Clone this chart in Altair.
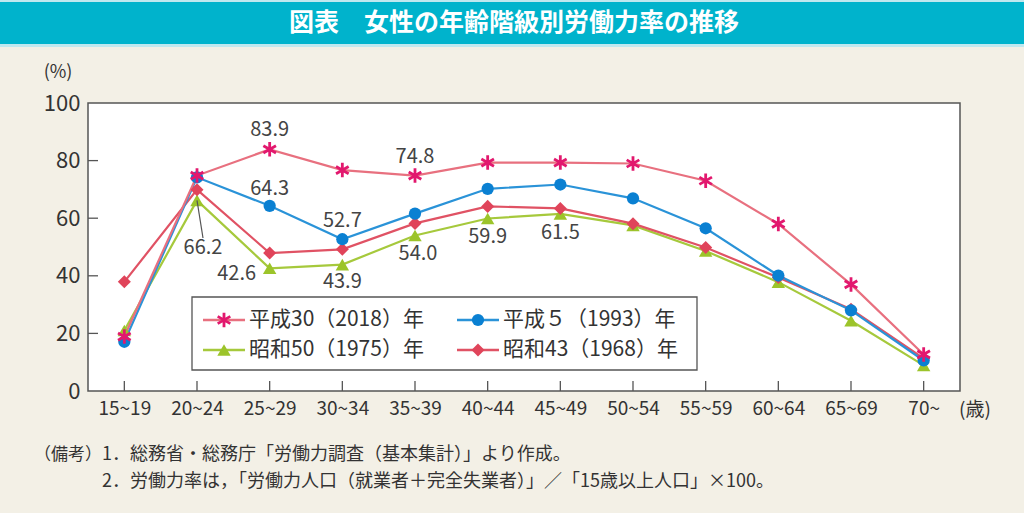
import altair as alt
import pandas as pd

# ---------------- data ----------------
ages = ["15~19", "20~24", "25~29", "30~34", "35~39", "40~44",
        "45~49", "50~54", "55~59", "60~64", "65~69", "70~"]
series_names = ["平成30（2018）年", "平成５（1993）年", "昭和50（1975）年", "昭和43（1968）年"]
v2018 = [18.9, 74.8, 83.9, 76.7, 74.8, 79.3, 79.3, 79.0, 73.0, 58.0, 37.0, 12.7]
v1993 = [17.1, 74.2, 64.3, 52.7, 61.6, 70.2, 71.7, 66.9, 56.5, 40.1, 28.0, 10.6]
v1975 = [21.0, 66.2, 42.6, 43.9, 54.0, 59.9, 61.5, 57.5, 48.6, 37.8, 24.4, 8.9]
v1968 = [37.9, 69.9, 47.9, 49.2, 58.2, 64.1, 63.4, 58.1, 49.8, 39.4, 28.4, 11.3]
y_ticks = [0, 20, 40, 60, 80, 100]

title_text = "図表　女性の年齢階級別労働力率の推移"
note_head = "（備考）"
note1 = "1．総務省・総務庁「労働力調査（基本集計）」より作成。"
note2 = "2．労働力率は，「労働力人口（就業者＋完全失業者）」／「15歳以上人口」×100。"

# annotated values: (series index, age index, dx, dy)
annotations = [
    (0, 2, 0, -19), (0, 4, 0, -19),
    (1, 2, 0, -17), (1, 3, 0, -18),
    (2, 2, -33, 6), (2, 3, 0, 17), (2, 4, 3, 19), (2, 5, 0, 19), (2, 6, 0, 19),
]

# ---------------- styling ----------------
W, H = 872, 288
FONT = "Noto Sans CJK JP"
line_colors = ["#e8707f", "#2a93d8", "#a6c93c", "#e05264"]
mark_colors = ["#e2186e", "#0a80d2", "#9cc42a", "#e0445a"]
shapes = ["M0,-1L0,1M-0.87,-0.5L0.87,0.5M-0.87,0.5L0.87,-0.5", "circle", "triangle-up", "diamond"]
sizes = [210, 150, 180, 170]

values = [v2018, v1993, v1975, v1968]
rows = []
for si, (name, vals) in enumerate(zip(series_names, values)):
    for a, v in zip(ages, vals):
        rows.append({"series": name, "age": a, "value": v})
df = pd.DataFrame(rows)

x_scale = alt.Scale(domain=ages, type="point", padding=0.5)
y_scale = alt.Scale(domain=[0, 100], nice=False, zero=True)
x_axis = alt.Axis(title=None, labelAngle=0, tickSize=0, domain=False, grid=False,
                  labelFontSize=19, labelFont=FONT, labelColor="#333333", labelPadding=8)
y_axis = alt.Axis(title=None, values=y_ticks, tickSize=0, domain=False, grid=False,
                  labelFontSize=22, labelFont=FONT, labelColor="#333333", labelPadding=8)

def X():
    return alt.X("age:N", sort=ages, scale=x_scale, axis=x_axis)

def Y():
    return alt.Y("value:Q", scale=y_scale, axis=y_axis)

base = alt.Chart(df)
layers = []

# banner
banner = alt.Chart(pd.DataFrame({"t": [title_text]}))
layers.append(banner.mark_rect(color="#00b3cc").encode(
    x=alt.value(-88), x2=alt.value(1024 - 88), y=alt.value(-101), y2=alt.value(-59)))
layers.append(banner.mark_rect(color="#bfe8ef").encode(
    x=alt.value(-88), x2=alt.value(1024 - 88), y=alt.value(-59), y2=alt.value(-56)))
layers.append(banner.mark_rect(color="#bfe8ef").encode(
    x=alt.value(-88), x2=alt.value(1024 - 88), y=alt.value(-103), y2=alt.value(-101)))
layers.append(banner.mark_text(font=FONT, fontSize=25, fontWeight="bold", color="white",
                               align="center", baseline="middle").encode(
    x=alt.value(514 - 88), y=alt.value(-80), text="t:N"))

# inner ticks
tick_df = pd.DataFrame({"value": [20, 40, 60, 80]})
layers.append(alt.Chart(tick_df).mark_rule(color="#555555", strokeWidth=1.3).encode(
    y=Y(), x=alt.value(0), x2=alt.value(10)))
xt_df = pd.DataFrame({"age": ages})
layers.append(alt.Chart(xt_df).mark_rule(color="#555555", strokeWidth=1.3).encode(
    x=X(), y=alt.value(H), y2=alt.value(H - 10)))

# series lines and markers (drawn bottom to top)
order = [2, 3, 1, 0]
for si in order:
    sub = base.transform_filter(alt.datum.series == series_names[si])
    layers.append(sub.mark_line(color=line_colors[si], strokeWidth=2.2).encode(x=X(), y=Y()))
for si in order:
    sub = base.transform_filter(alt.datum.series == series_names[si])
    if si == 0:
        pm = sub.mark_point(shape=shapes[si], filled=False, color=mark_colors[si],
                            strokeWidth=2.8, size=sizes[si], opacity=1)
    else:
        pm = sub.mark_point(shape=shapes[si], filled=True, color=mark_colors[si],
                            size=sizes[si], opacity=1)
    layers.append(pm.encode(x=X(), y=Y()))

# value labels
for si, ai, dx, dy in annotations:
    d = pd.DataFrame({"age": [ages[ai]], "value": [values[si][ai]],
                      "label": [f"{values[si][ai]:.1f}"]})
    layers.append(alt.Chart(d).mark_text(font=FONT, fontSize=20, color="#444444",
                                         dx=dx, dy=dy, baseline="middle").encode(
        x=X(), y=Y(), text="label:N"))

# 66.2 label with leader line
d66 = pd.DataFrame({"age": [ages[1]], "value": [values[2][1]], "label": [f"{values[2][1]:.1f}"]})
layers.append(alt.Chart(d66).mark_text(font=FONT, fontSize=20, color="#444444",
                                       dx=6, dy=48, baseline="middle").encode(
    x=X(), y=Y(), text="label:N"))
layers.append(alt.Chart(d66).mark_rule(color="#555555", strokeWidth=1.2).encode(
    x=X(), y=Y(), x2=alt.value(115), y2=alt.value(135)))

# legend box
leg_box = alt.Chart(pd.DataFrame({"a": [0]}))
layers.append(leg_box.mark_rect(fill="white", stroke="#555555", strokeWidth=1.3).encode(
    x=alt.value(104), x2=alt.value(609), y=alt.value(194), y2=alt.value(267)))
for si, name in enumerate(series_names):
    col, row = si % 2, si // 2
    lx = 115 + col * 254
    ly = 217 + row * 30
    ld = pd.DataFrame({"name": [name]})
    lc = alt.Chart(ld)
    layers.append(lc.mark_rule(color=line_colors[si], strokeWidth=2.4).encode(
        x=alt.value(lx), x2=alt.value(lx + 42), y=alt.value(ly)))
    if si == 0:
        lp = lc.mark_point(shape=shapes[si], filled=False, color=mark_colors[si],
                           strokeWidth=2.8, size=sizes[si], opacity=1)
    else:
        lp = lc.mark_point(shape=shapes[si], filled=True, color=mark_colors[si],
                           size=sizes[si], opacity=1)
    layers.append(lp.encode(x=alt.value(lx + 21), y=alt.value(ly)))
    layers.append(lc.mark_text(font=FONT, fontSize=21, color="#333333", align="left",
                               baseline="middle").encode(
        x=alt.value(lx + 46), y=alt.value(ly), text="name:N"))

# axis extras
ex = alt.Chart(pd.DataFrame({"p": ["(%)"], "s": ["(歳)"]}))
layers.append(ex.mark_text(font=FONT, fontSize=18, color="#333333", align="center",
                           baseline="middle").encode(x=alt.value(-30), y=alt.value(-30), text="p:N"))
layers.append(ex.mark_text(font=FONT, fontSize=19, color="#333333", align="center",
                           baseline="middle").encode(x=alt.value(W + 15), y=alt.value(H + 19), text="s:N"))

# footnotes
nd = alt.Chart(pd.DataFrame({"h": [note_head], "n1": [note1], "n2": [note2]}))
layers.append(nd.mark_text(font=FONT, fontSize=17, color="#333333", align="left",
                           baseline="middle").encode(x=alt.value(-54), y=alt.value(455 - 103), text="h:N"))
layers.append(nd.mark_text(font=FONT, fontSize=18, color="#333333", align="left",
                           baseline="middle").encode(x=alt.value(102 - 88), y=alt.value(455 - 103), text="n1:N"))
layers.append(nd.mark_text(font=FONT, fontSize=18, color="#333333", align="left",
                           baseline="middle").encode(x=alt.value(102 - 88), y=alt.value(482 - 103), text="n2:N"))

chart = alt.layer(*layers).properties(
    width=W, height=H,
    autosize=alt.AutoSizeParams(type="none"),
    padding={"left": 88, "top": 103, "right": 1024 - 88 - W, "bottom": 513 - 103 - H},
    background="#f3f0e6",
).configure_view(fill="white", stroke="#555555", strokeWidth=1.5)

chart.save("out.html", embed_options={"renderer": "svg", "actions": False})
